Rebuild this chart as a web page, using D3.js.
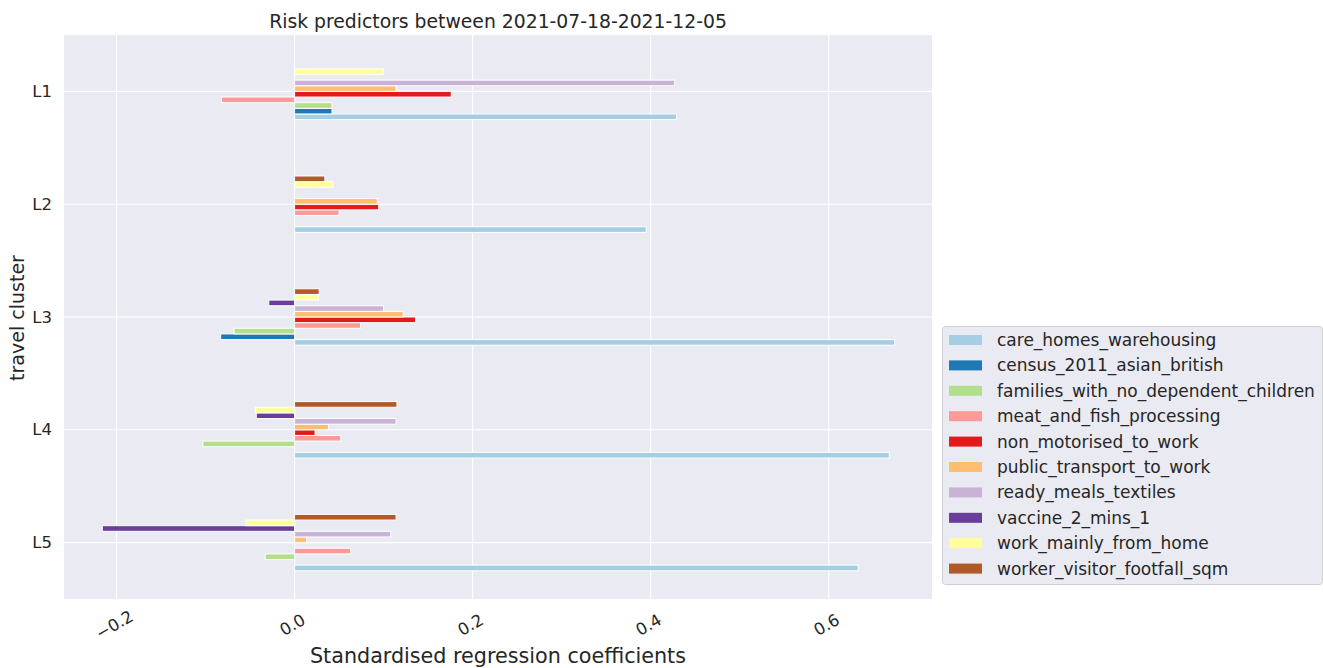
<!DOCTYPE html>
<html>
<head>
<meta charset="utf-8">
<script src="https://cdn.jsdelivr.net/npm/d3@7"></script>
<style>
  body { margin: 0; background: #ffffff; }
  svg { display: block; font-family: "DejaVu Sans", sans-serif; }
</style>
</head>
<body>
<svg id="chart" width="1323" height="668"></svg>
<script>
const categories = ["L1", "L2", "L3", "L4", "L5"];
const seriesNames = [
  "care_homes_warehousing",
  "census_2011_asian_british",
  "families_with_no_dependent_children",
  "meat_and_fish_processing",
  "non_motorised_to_work",
  "public_transport_to_work",
  "ready_meals_textiles",
  "vaccine_2_mins_1",
  "work_mainly_from_home",
  "worker_visitor_footfall_sqm"
];
// values per series, in category order L1..L5
const care_homes_warehousing      = [0.429, 0.395, 0.674, 0.668, 0.633];
const census_2011_asian_british   = [0.042, 0, -0.083, 0, 0];
const families_with_no_dependent_children = [0.042, 0, -0.068, -0.103, -0.033];
const meat_and_fish_processing    = [-0.082, 0.050, 0.074, 0.052, 0.063];
const non_motorised_to_work       = [0.176, 0.0945, 0.136, 0.023, 0];
const public_transport_to_work    = [0.114, 0.093, 0.122, 0.038, 0.0136];
const ready_meals_textiles        = [0.427, 0, 0.100, 0.114, 0.108];
const vaccine_2_mins_1            = [0, 0, -0.029, -0.043, -0.216];
const work_mainly_from_home       = [0.0996, 0.043, 0.027, -0.044, -0.0546];
const worker_visitor_footfall_sqm = [0, 0.034, 0.0276, 0.115, 0.114];
const seriesValues = [
  care_homes_warehousing, census_2011_asian_british, families_with_no_dependent_children,
  meat_and_fish_processing, non_motorised_to_work, public_transport_to_work,
  ready_meals_textiles, vaccine_2_mins_1, work_mainly_from_home, worker_visitor_footfall_sqm
];
const xTicks = [-0.2, 0.0, 0.2, 0.4, 0.6];
const titleText = "Risk predictors between 2021-07-18-2021-12-05";
const xLabel = "Standardised regression coefficients";
const yLabel = "travel cluster";

// matplotlib 'Paired' sampled at 10 evenly spaced points
const pairedIdx = [0, 1, 2, 4, 5, 6, 8, 9, 10, 11];
const colors = pairedIdx.map(i => d3.schemePaired[i]);
const textColor = "#262626";
const svg = d3.select("#chart");

const plot = { left: 64, right: 932, top: 35, bottom: 599 };
const x = d3.scaleLinear().domain([-0.259, 0.716]).range([plot.left, plot.right]);
// category positions: L5 at 0 (bottom), L1 at 4 (top)
const y = d3.scaleLinear().domain([-0.5, 4.5]).range([plot.bottom, plot.top]);
const catPos = (i) => categories.length - 1 - i;
const groupWidth = 0.5;
const barW = groupWidth / seriesNames.length;

svg.append("rect")
  .attr("x", plot.left).attr("y", plot.top)
  .attr("width", plot.right - plot.left).attr("height", plot.bottom - plot.top)
  .attr("fill", "#eaeaf2");

// gridlines
svg.append("g").selectAll("line").data(xTicks).join("line")
  .attr("x1", d => x(d)).attr("x2", d => x(d))
  .attr("y1", plot.top).attr("y2", plot.bottom)
  .attr("stroke", "#ffffff").attr("stroke-width", 1.1);
svg.append("g").selectAll("line").data(categories).join("line")
  .attr("x1", plot.left).attr("x2", plot.right)
  .attr("y1", (d, i) => y(catPos(i))).attr("y2", (d, i) => y(catPos(i)))
  .attr("stroke", "#ffffff").attr("stroke-width", 1.1);

// bars
const bars = [];
seriesValues.forEach((vals, s) => {
  vals.forEach((v, c) => {
    bars.push({ s, c, v });
  });
});
svg.append("g").selectAll("rect").data(bars.filter(d => d.v !== 0)).join("rect")
  .attr("x", d => Math.min(x(0), x(d.v)))
  .attr("width", d => Math.abs(x(d.v) - x(0)))
  .attr("y", d => y(catPos(d.c) - groupWidth / 2 + (d.s + 1) * barW))
  .attr("height", d => y(catPos(d.c) - groupWidth / 2 + d.s * barW) - y(catPos(d.c) - groupWidth / 2 + (d.s + 1) * barW))
  .attr("fill", d => colors[d.s])
  .attr("stroke", "#ffffff").attr("stroke-width", 1);

// y tick labels
svg.append("g").selectAll("text").data(categories).join("text")
  .attr("x", 52).attr("y", (d, i) => y(catPos(i)))
  .attr("text-anchor", "end").attr("dominant-baseline", "central")
  .attr("font-size", 16.5).attr("fill", textColor)
  .text(d => d);

// x tick labels rotated
svg.append("g").selectAll("text").data(xTicks).join("text")
  .attr("transform", d => `translate(${x(d) - 2},625) rotate(-30)`)
  .attr("text-anchor", "middle").attr("dominant-baseline", "central")
  .attr("font-size", 16.5).attr("fill", textColor)
  .text(d => d3.format(".1f")(d).replace("-", "\u2212"));

// title
svg.append("text")
  .attr("x", (plot.left + plot.right) / 2).attr("y", 28)
  .attr("text-anchor", "middle").attr("font-size", 18.8).attr("fill", textColor)
  .text(titleText);

// axis labels
svg.append("text")
  .attr("x", (plot.left + plot.right) / 2).attr("y", 663)
  .attr("text-anchor", "middle").attr("font-size", 20.7).attr("fill", textColor)
  .text(xLabel);
svg.append("text")
  .attr("transform", `translate(24,318) rotate(-90)`)
  .attr("text-anchor", "middle").attr("font-size", 19).attr("fill", textColor)
  .text(yLabel);

// legend
const lg = svg.append("g");
lg.append("rect")
  .attr("x", 942.5).attr("y", 326.5).attr("width", 380).attr("height", 258)
  .attr("rx", 3).attr("fill", "#eaeaf2").attr("stroke", "#d0d0d0").attr("stroke-width", 1);
const rowY = (i) => 340 + i * 25.4;
lg.selectAll("rect.sw").data(seriesNames).join("rect")
  .attr("class", "sw")
  .attr("x", 949).attr("y", (d, i) => rowY(i) - 5)
  .attr("width", 33).attr("height", 10)
  .attr("fill", (d, i) => colors[i]);
lg.selectAll("text").data(seriesNames).join("text")
  .attr("x", 997).attr("y", (d, i) => rowY(i))
  .attr("dominant-baseline", "central")
  .attr("font-size", 17).attr("fill", textColor)
  .text(d => d);
</script>
</body>
</html>
